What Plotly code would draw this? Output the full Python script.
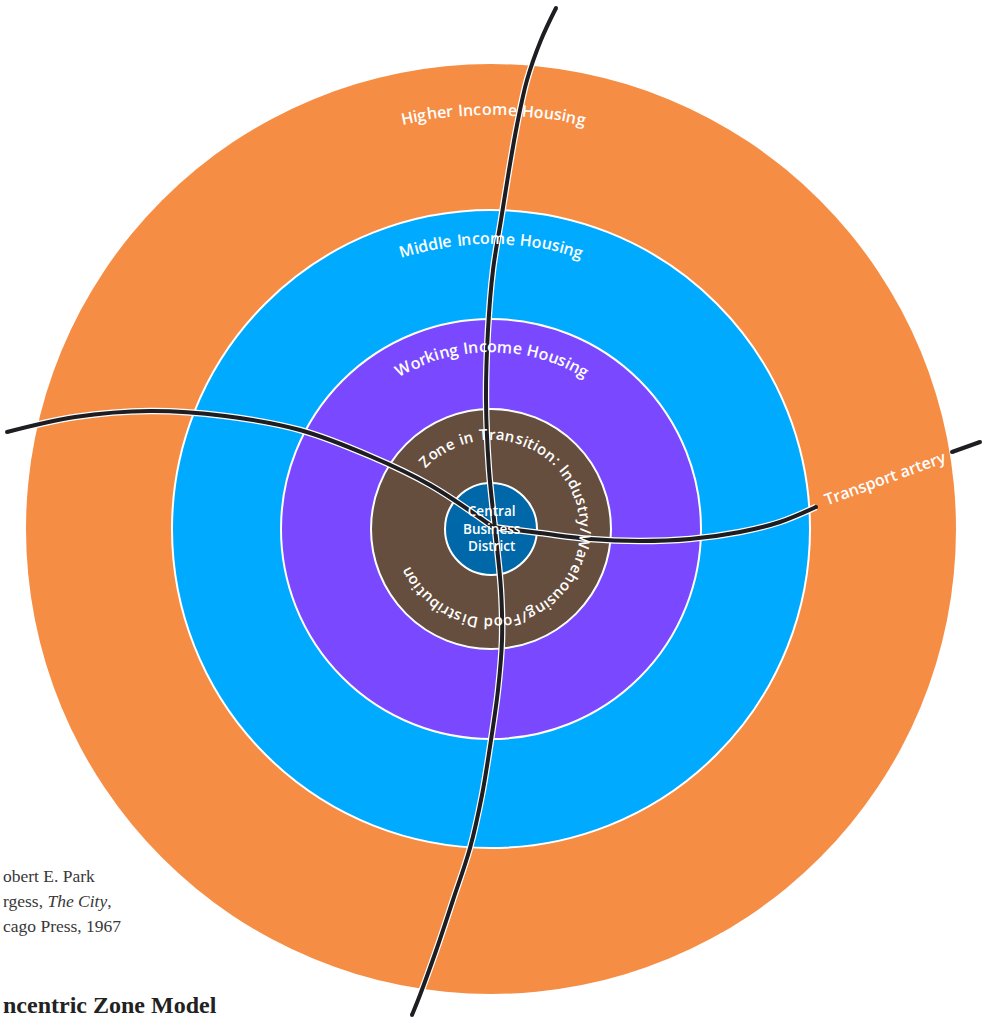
import math
import plotly.graph_objects as go

# ---------------- data ----------------
FIG_W, FIG_H = 984, 1017
CX, CY = 491, 529

zone_names = ["Higher Income Housing", "Middle Income Housing", "Working Income Housing",
              "Zone in Transition: Industry/Warehousing/Food Distribution", "Central Business District"]
zone_radii = [465, 319, 210, 120, 46]
zone_colors = ["#F68D45", "#00AAFF", "#7A48FF", "#664E3E", "#0068A8"]

# label arcs: radius, first-char angle, last-char angle (degrees, math convention)
label_radius = [420, 291, 183, 95]
label_start = [101.6, 106.8, 118.6, 134.6]
label_end = [77.6, 72.4, 59.6, -152.9]
label_size = [16, 16, 16, 15]

# transport arteries (pixel coordinates)
art_v_x = [556, 541, 527, 517, 509, 501, 493, 488, 486, 489, 495, 501, 502, 498, 491, 482, 470, 453, 437, 420, 412]
art_v_y = [8, 40, 80, 125, 170, 220, 270, 330, 400, 470, 529, 590, 640, 690, 740, 795, 848, 900, 948, 995, 1015]
art_l_x = [7, 75, 150, 225, 300, 370, 430, 493]
art_l_y = [432, 417, 411, 416, 430, 456, 485, 527]
art_r_x = [493, 540, 590, 640, 690, 740, 780, 816]
art_r_y = [527, 533, 539, 541, 539, 532, 522, 507]
art_e_x = [952, 980]
art_e_y = [452, 442]

source_lines = ["obert E. Park", "rgess, <i>The City</i>,", "cago Press, 1967"]
source_y = [876, 901, 926]
title_text = "ncentric Zone Model"

# approximate advance widths (em), used to space the letters along the arcs
CW = {' ': .318, 'a': .613, 'b': .635, 'c': .550, 'd': .635, 'e': .615, 'f': .352, 'g': .635,
      'h': .634, 'i': .278, 'j': .278, 'k': .579, 'l': .278, 'm': .974, 'n': .634, 'o': .612,
      'p': .635, 'q': .635, 'r': .411, 's': .521, 't': .392, 'u': .634, 'v': .592, 'w': .818,
      'x': .592, 'y': .592, 'z': .525, 'A': .684, 'B': .686, 'C': .698, 'D': .770, 'E': .632,
      'F': .575, 'G': .775, 'H': .752, 'I': .295, 'M': .863, 'T': .611, 'W': .989, 'Z': .685,
      ':': .337, '/': .337}

FONT = "Open Sans"
WEIGHT = 600
LINE_COL = "#1D1D22"

fig = go.Figure()

# ---------------- rings ----------------
shapes = []
for i, (r, col) in enumerate(zip(zone_radii, zone_colors)):
    shapes.append(dict(type="circle", xref="x", yref="y", layer="below",
                       x0=CX - r, x1=CX + r, y0=CY - r, y1=CY + r,
                       fillcolor=col,
                       line=dict(color="white", width=0 if i == 0 else 2)))

# ---------------- arteries ----------------
arts = [(art_v_x, art_v_y), (art_l_x, art_l_y), (art_r_x, art_r_y), (art_e_x, art_e_y)]
for xs, ys in arts:
    fig.add_trace(go.Scatter(x=xs, y=ys, mode="lines",
                             line=dict(color="white", width=6.5, shape="spline", smoothing=1),
                             hoverinfo="skip"))
for xs, ys in arts:
    fig.add_trace(go.Scatter(x=xs, y=ys, mode="lines",
                             line=dict(color=LINE_COL, width=4, shape="spline", smoothing=1),
                             hoverinfo="skip"))
# round caps
cap_x = [art_v_x[0], art_v_x[-1], art_l_x[0], art_r_x[-1], art_e_x[0], art_e_x[-1]]
cap_y = [art_v_y[0], art_v_y[-1], art_l_y[0], art_r_y[-1], art_e_y[0], art_e_y[-1]]
fig.add_trace(go.Scatter(x=cap_x, y=cap_y, mode="markers",
                         marker=dict(color=LINE_COL, size=4, line=dict(width=0)), hoverinfo="skip"))

# ---------------- curved labels ----------------
annotations = []


def norm(a):
    return ((a + 180) % 360) - 180


def arc_text(text, r, a0, a1, fs):
    widths = [CW.get(c, 0.6) * fs for c in text]
    n = len(text)
    arc = r * math.radians(a0 - a1)
    natural = sum(widths) - widths[0] / 2 - widths[-1] / 2
    track = (arc - natural) / (n - 1)
    s = 0.0
    for i, c in enumerate(text):
        if i > 0:
            s += widths[i - 1] / 2 + widths[i] / 2 + track
        if c == ' ':
            continue
        th = a0 - math.degrees(s / r)
        x = CX + r * math.cos(math.radians(th))
        y = CY - r * math.sin(math.radians(th))
        annotations.append(dict(x=x, y=y, xref="x", yref="y", text=c, showarrow=False,
                                xanchor="center", yanchor="middle", textangle=norm(90 - th),
                                font=dict(family=FONT, size=fs, color="white", weight=WEIGHT)))


for i in range(4):
    arc_text(zone_names[i], label_radius[i], label_start[i], label_end[i], label_size[i])

annotations.append(dict(x=CX + 1, y=CY - 1, xref="x", yref="y", text="Central<br>Business<br>District",
                        showarrow=False, xanchor="center", yanchor="middle",
                        font=dict(family=FONT, size=13.5, color="white", weight=WEIGHT)))

annotations.append(dict(x=885, y=478, xref="x", yref="y", text="Transport artery", showarrow=False,
                        xanchor="center", yanchor="middle", textangle=-20,
                        font=dict(family=FONT, size=16, color="white", weight=WEIGHT)))

for t, y in zip(source_lines, source_y):
    annotations.append(dict(x=0.5, y=y, xref="x", yref="y", text=t, showarrow=False,
                            xanchor="left", yanchor="middle",
                            font=dict(family="Liberation Serif", size=17.5, color="#383838")))

annotations.append(dict(x=0.5, y=1005, xref="x", yref="y", text="<b>" + title_text + "</b>", showarrow=False,
                        xanchor="left", yanchor="middle",
                        font=dict(family="Liberation Serif", size=24, color="#222222")))

fig.update_layout(
    width=FIG_W, height=FIG_H,
    margin=dict(l=0, r=0, t=0, b=0),
    paper_bgcolor="white", plot_bgcolor="white",
    showlegend=False,
    shapes=shapes, annotations=annotations,
    xaxis=dict(range=[0, FIG_W], visible=False, fixedrange=True),
    yaxis=dict(range=[FIG_H, 0], visible=False, fixedrange=True),
)

fig.write_html("out.html", config={"displayModeBar": False},
               post_script="document.body.style.margin='0px';")
